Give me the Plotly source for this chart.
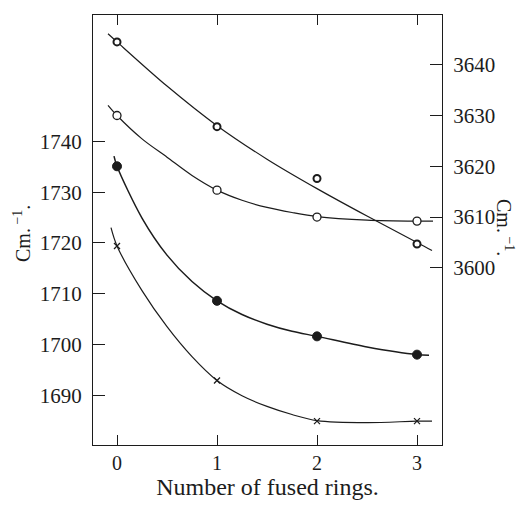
import plotly.graph_objects as go

# ---- data ----
rings = [0, 1, 2, 3]

# O-H series (right axis, cm^-1)
oh_a_pts = [3644.5, 3627.8, 3617.6, 3604.7]   # small open circles
oh_b_pts = [3630.0, 3615.3, 3610.0, 3609.2]   # open circles
# C=O series (left axis, cm^-1)
co_c_pts = [1735.1, 1708.6, 1701.6, 1698.0]   # filled circles
co_d_pts = [1719.4, 1692.9, 1684.9, 1684.9]   # crosses

# hand-drawn smooth curves
curve_a_x = [-0.09, 0, 0.5, 1, 1.5, 2, 2.5, 3, 3.15]
curve_a_y = [3646.1, 3644.5, 3635.8, 3628.0, 3621.4, 3615.6, 3610.2, 3605.0, 3603.4]
curve_b_x = [-0.09, 0, 0.25, 0.5, 0.75, 1, 1.25, 1.5, 1.75, 2, 2.5, 3, 3.16]
curve_b_y = [3632.0, 3630.0, 3625.4, 3621.8, 3618.2, 3615.3, 3613.3, 3611.9, 3610.9,
             3610.1, 3609.4, 3609.2, 3609.2]
curve_c_x = [-0.03, 0, 0.25, 0.5, 0.75, 1, 1.25, 1.5, 1.75, 2, 2.5, 3, 3.12]
curve_c_y = [1737.1, 1735.1, 1724.9, 1717.6, 1712.4, 1708.6, 1705.9, 1704.0, 1702.6,
             1701.6, 1699.5, 1698.0, 1697.9]
curve_d_x = [-0.06, 0, 0.25, 0.5, 0.75, 1, 1.25, 1.5, 1.75, 2, 2.5, 3, 3.15]
curve_d_y = [1723.0, 1719.4, 1710.6, 1703.5, 1697.6, 1692.9, 1689.9, 1687.8, 1686.2,
             1685.0, 1684.6, 1684.9, 1684.9]

left_ticks = [1690, 1700, 1710, 1720, 1730, 1740]
right_ticks = [3600, 3610, 3620, 3630, 3640]
x_ticks = [0, 1, 2, 3]

INK = "#1c1c1c"
FONT = "Liberation Serif"

fig = go.Figure()

def curve(x, y, axis, w=1.2):
    fig.add_trace(go.Scatter(x=x, y=y, yaxis=axis, mode="lines",
                             line=dict(color=INK, width=w, shape="spline", smoothing=0.9),
                             showlegend=False, hoverinfo="skip"))

def pts(y, axis, symbol, size, fill, lw):
    fig.add_trace(go.Scatter(x=rings, y=y, yaxis=axis, mode="markers",
                             marker=dict(symbol=symbol, size=size, color=fill,
                                         line=dict(color=INK, width=lw)),
                             showlegend=False))

curve(curve_a_x, curve_a_y, "y2")
curve(curve_b_x, curve_b_y, "y2")
curve(curve_c_x, curve_c_y, "y", 1.5)
curve(curve_d_x, curve_d_y, "y")

pts(oh_a_pts, "y2", "circle", 7, "white", 2)
pts(oh_b_pts, "y2", "circle", 8, "white", 1.3)
pts(co_c_pts, "y", "circle", 9, INK, 1)
pts(co_d_pts, "y", "x-thin", 6, INK, 1.3)

L, R, T, B = 93, 78, 15, 58
W, H = 520, 505

fig.update_layout(
    width=W, height=H,
    margin=dict(l=L, r=R, t=T, b=B),
    paper_bgcolor="white", plot_bgcolor="white",
    font=dict(family=FONT, size=21, color=INK),
    xaxis=dict(range=[-0.24, 3.25], tickvals=x_ticks, ticks="inside", ticklen=10,
               tickcolor=INK, showline=True, linecolor=INK, linewidth=1.2,
               mirror="ticks", showgrid=False, zeroline=False,
               tickfont=dict(family=FONT, size=20),
               title=dict(text="Number of fused rings.", font=dict(family=FONT, size=24),
                          standoff=2)),
    yaxis=dict(range=[1680.2, 1764.9], tickvals=left_ticks, ticks="inside", ticklen=12,
               tickcolor=INK, showline=True, linecolor=INK, linewidth=1.2,
               showgrid=False, zeroline=False, ticklabelstandoff=6,
               tickfont=dict(family=FONT, size=21)),
    yaxis2=dict(range=[3565.1, 3649.8], tickvals=right_ticks, ticks="inside", ticklen=12,
                tickcolor=INK, showline=True, linecolor=INK, linewidth=1.2,
                overlaying="y", side="right", showgrid=False, zeroline=False,
                ticklabelstandoff=6, tickfont=dict(family=FONT, size=21)),
)

pw = W - L - R
ph = H - T - B
def px_to_paper(x, y):
    return (x - L) / pw, (H - B - y) / ph

for (px, py, ang) in [(22, 235, -90), (505, 228, 90)]:
    ax, ay = px_to_paper(px, py)
    fig.add_annotation(text="Cm.<sup> −1</sup>.", x=ax, y=ay, xref="paper", yref="paper",
                       xanchor="center", yanchor="middle", showarrow=False,
                       textangle=ang, font=dict(family=FONT, size=20))

fig.write_html("out.html", config={"displayModeBar": False},
               post_script="document.body.style.margin='0px';")
